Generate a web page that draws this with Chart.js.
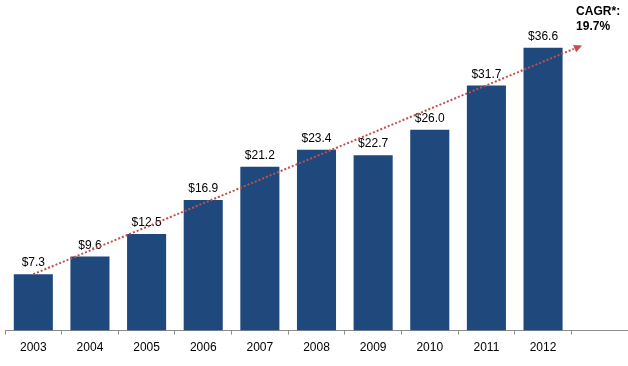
<!DOCTYPE html>
<html>
<head>
<meta charset="utf-8">
<script src="https://cdn.jsdelivr.net/npm/chart.js@4.4.1/dist/chart.umd.min.js"></script>
<style>
  html, body { margin: 0; padding: 0; background: #fff; }
  #wrap { width: 628px; height: 366px; position: relative; }
</style>
</head>
<body>
<div id="wrap"><canvas id="myChart"></canvas></div>
<script>
// data
const years = ['2003', '2004', '2005', '2006', '2007', '2008', '2009', '2010', '2011', '2012', ''];
const revenue = [7.3, 9.6, 12.5, 16.9, 21.2, 23.4, 22.7, 26.0, 31.7, 36.6, null];
const valueLabels = ['$7.3', '$9.6', '$12.5', '$16.9', '$21.2', '$23.4', '$22.7', '$26.0', '$31.7', '$36.6', ''];
const trendFrom = { index: 0, value: 7.3 };
const trendTo = { index: 9.69, value: 36.9 };
const cagrLines = ['CAGR*:', '19.7%'];

const FONT = '"Liberation Sans", Arial, sans-serif';

// value labels above bars
const barLabels = {
  id: 'barLabels',
  afterDatasetsDraw(chart) {
    const ctx = chart.ctx;
    const meta = chart.getDatasetMeta(0);
    ctx.save();
    ctx.font = '12px ' + FONT;
    ctx.fillStyle = '#000';
    ctx.textAlign = 'center';
    ctx.textBaseline = 'bottom';
    meta.data.forEach((bar, i) => {
      if (revenue[i] == null) return;
      ctx.fillText(valueLabels[i], bar.x, bar.y - 5);
    });
    ctx.restore();
  }
};

// dotted CAGR trend arrow + caption
const trendArrow = {
  id: 'trendArrow',
  afterDatasetsDraw(chart) {
    const ctx = chart.ctx;
    const xs = chart.scales.x, ys = chart.scales.y;
    const x1 = xs.getPixelForValue(trendFrom.index), y1 = ys.getPixelForValue(trendFrom.value);
    const x2 = xs.getPixelForValue(trendTo.index), y2 = ys.getPixelForValue(trendTo.value);
    const ang = Math.atan2(y2 - y1, x2 - x1);
    const head = 9;
    ctx.save();
    ctx.strokeStyle = '#C0504D';
    ctx.fillStyle = '#C0504D';
    ctx.lineWidth = 2;
    ctx.setLineDash([2, 2]);
    ctx.beginPath();
    ctx.moveTo(x1, y1);
    ctx.lineTo(x2 - head * Math.cos(ang), y2 - head * Math.sin(ang));
    ctx.stroke();
    ctx.setLineDash([]);
    ctx.beginPath();
    ctx.moveTo(x2, y2);
    ctx.lineTo(x2 - head * Math.cos(ang - 0.45), y2 - head * Math.sin(ang - 0.45));
    ctx.lineTo(x2 - head * Math.cos(ang + 0.45), y2 - head * Math.sin(ang + 0.45));
    ctx.closePath();
    ctx.fill();

    ctx.font = 'bold 12px ' + FONT;
    ctx.fillStyle = '#000';
    ctx.textAlign = 'left';
    ctx.textBaseline = 'middle';
    ctx.fillText(cagrLines[0], x2 - 6, y2 - 34);
    ctx.fillText(cagrLines[1], x2 - 6, y2 - 19);
    ctx.restore();
  }
};

const config = {
  type: 'bar',
  data: {
    labels: years,
    datasets: [{
      data: revenue,
      backgroundColor: '#1F497D',
      categoryPercentage: 1,
      barPercentage: 0.69
    }]
  },
  options: {
    responsive: true,
    maintainAspectRatio: false,
    animation: false,
    layout: { padding: { left: 5, right: 0, top: 6, bottom: 5 } },
    plugins: {
      legend: { display: false },
      tooltip: { enabled: false }
    },
    scales: {
      x: {
        offset: true,
        grid: {
          offset: true,
          drawOnChartArea: false,
          drawTicks: true,
          tickLength: 4,
          color: '#8c8c8c'
        },
        border: { color: '#8c8c8c', width: 1 },
        ticks: {
          color: '#000',
          font: { family: FONT, size: 12 },
          padding: 6,
          maxRotation: 0,
          autoSkip: false
        }
      },
      y: {
        display: false,
        min: 0,
        max: 42
      }
    }
  },
  plugins: [barLabels, trendArrow]
};

const myChart = new Chart(document.getElementById('myChart'), config);
</script>
</body>
</html>
